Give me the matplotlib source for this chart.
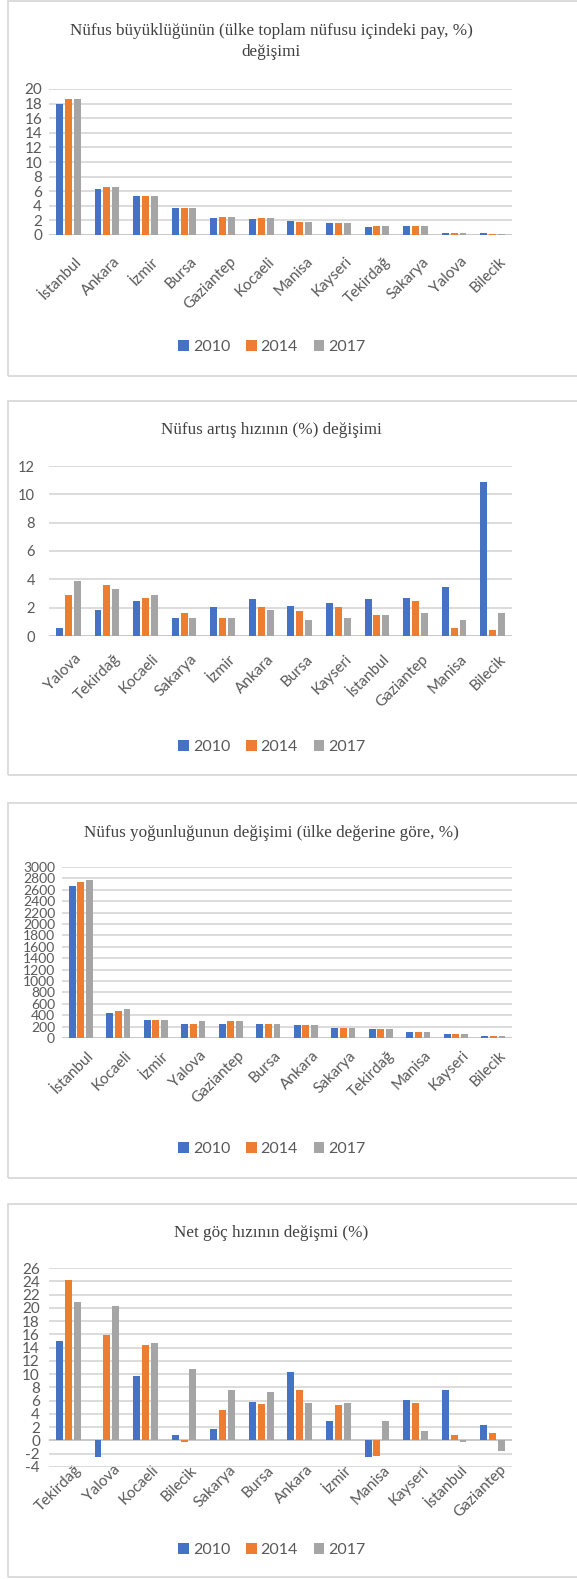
import matplotlib
matplotlib.use("Agg")
import matplotlib.pyplot as plt
from matplotlib.patches import Rectangle, Patch
from matplotlib.transforms import ScaledTranslation
import numpy as np

# ---------------- data ----------------
years = ["2010", "2014", "2017"]

cats1 = ["İstanbul", "Ankara", "İzmir", "Bursa", "Gaziantep", "Kocaeli", "Manisa",
         "Kayseri", "Tekirdağ", "Sakarya", "Yalova", "Bilecik"]
p1_2010 = [18.0, 6.3, 5.3, 3.7, 2.3, 2.2, 1.9, 1.7, 1.1, 1.2, 0.3, 0.3]
p1_2014 = [18.6, 6.6, 5.3, 3.7, 2.5, 2.3, 1.8, 1.7, 1.2, 1.2, 0.3, 0.2]
p1_2017 = [18.6, 6.6, 5.3, 3.7, 2.5, 2.3, 1.8, 1.7, 1.2, 1.2, 0.3, 0.2]

cats2 = ["Yalova", "Tekirdağ", "Kocaeli", "Sakarya", "İzmir", "Ankara", "Bursa",
         "Kayseri", "İstanbul", "Gaziantep", "Manisa", "Bilecik"]
p2_2010 = [0.56, 1.85, 2.45, 1.3, 2.05, 2.6, 2.15, 2.3, 2.6, 2.7, 3.45, 10.9]
p2_2014 = [2.9, 3.6, 2.7, 1.6, 1.3, 2.05, 1.75, 2.05, 1.45, 2.45, 0.56, 0.45]
p2_2017 = [3.9, 3.3, 2.9, 1.3, 1.3, 1.85, 1.15, 1.3, 1.45, 1.6, 1.15, 1.6]

cats3 = ["İstanbul", "Kocaeli", "İzmir", "Yalova", "Gaziantep", "Bursa", "Ankara",
         "Sakarya", "Tekirdağ", "Manisa", "Kayseri", "Bilecik"]
p3_2010 = [2665, 440, 323, 252, 252, 252, 223, 182, 153, 112, 76, 35]
p3_2014 = [2736, 476, 323, 252, 294, 252, 223, 182, 153, 112, 76, 35]
p3_2017 = [2765, 511, 323, 294, 294, 252, 223, 182, 153, 112, 76, 35]

cats4 = ["Tekirdağ", "Yalova", "Kocaeli", "Bilecik", "Sakarya", "Bursa", "Ankara",
         "İzmir", "Manisa", "Kayseri", "İstanbul", "Gaziantep"]
p4_2010 = [15.05, -2.5, 9.75, 0.86, 1.77, 5.75, 10.35, 3.0, -2.5, 6.06, 7.6, 2.4]
p4_2014 = [24.2, 15.9, 14.4, -0.3, 4.55, 5.45, 7.6, 5.4, -2.3, 5.7, 0.86, 1.15]
p4_2017 = [20.9, 20.2, 14.65, 10.7, 7.6, 7.3, 5.7, 5.7, 3.0, 1.4, -0.3, -1.6]

titles = ["Nüfus büyüklüğünün (ülke toplam nüfusu içindeki pay, %)\ndeğişimi",
          "Nüfus artış hızının (%) değişimi",
          "Nüfus yoğunluğunun değişimi (ülke değerine göre, %)",
          "Net göç hızının değişmi (%)"]

yticks1 = list(range(0, 21, 2))
yticks2 = list(range(0, 13, 2))
yticks3 = list(range(0, 3001, 200))
yticks4 = list(range(-4, 27, 2))

# ---------------- style ----------------
colors = ["#4472C4", "#ED7D31", "#A5A5A5"]
grid_c = "#D9D9D9"
sans = ["Lato", "DejaVu Sans"]
serif = ["Liberation Serif", "DejaVu Serif"]

W, H = 577, 1579
DPI = 100
fig = plt.figure(figsize=(W / DPI, H / DPI), dpi=DPI)
fig.patch.set_facecolor("white")


def fx(px):
    return px / W


def fy(py):
    return 1 - py / H


panels = [
    dict(cats=cats1, vals=[p1_2010, p1_2014, p1_2017], yt=yticks1, L=49, R=512, T=89, B=235,
         box=(1, 376), title_y=[30, 53], leg_y=347, yfs=11, xpad=14, ypad=5),
    dict(cats=cats2, vals=[p2_2010, p2_2014, p2_2017], yt=yticks2, L=49, R=512, T=466, B=636,
         box=(401, 775), title_y=[430], leg_y=747, yfs=10.5, xpad=11.5, ypad=10),
    dict(cats=cats3, vals=[p3_2010, p3_2014, p3_2017], yt=yticks3, L=62, R=512, T=867, B=1038,
         box=(803, 1178), title_y=[833], leg_y=1149, yfs=10, xpad=7.5, ypad=5),
    dict(cats=cats4, vals=[p4_2010, p4_2014, p4_2017], yt=yticks4, L=49, R=512, T=1268, B=1467,
         box=(1204, 1577), title_y=[1233], leg_y=1550, yfs=11, xpad=-3, ypad=6.5),
]

for i, p in enumerate(panels):
    # outer chart box
    bt, bb = p["box"]
    fig.add_artist(Rectangle((fx(8), fy(bb)), fx(600 - 8), (bb - bt) / H,
                             transform=fig.transFigure, fill=False,
                             edgecolor="#D6D6D6", linewidth=1.2))
    ax = fig.add_axes([fx(p["L"]), fy(p["B"]), fx(p["R"] - p["L"]), (p["B"] - p["T"]) / H])
    n = len(p["cats"])
    x = np.arange(n)
    bw = 0.18
    off = 0.23
    for k in range(3):
        ax.bar(x + (k - 1) * off, p["vals"][k], width=bw, color=colors[k], zorder=3)
    ax.set_xlim(-0.5, n - 0.5)
    ax.set_ylim(p["yt"][0], p["yt"][-1])
    ax.set_yticks(p["yt"])
    ax.set_yticklabels([str(v) for v in p["yt"]], fontsize=p["yfs"], family=sans, color="#595959")
    ax.yaxis.grid(True, color=grid_c, linewidth=1.3, zorder=0)
    ax.set_axisbelow(True)
    ax.tick_params(axis="y", length=0, pad=p["ypad"])
    ax.tick_params(axis="x", length=0, pad=p["xpad"])
    for s in ax.spines.values():
        s.set_visible(False)
    ax.axhline(0, color="#C8C8C8", linewidth=1.3, zorder=2)
    ax.set_xticks(x)
    ax.set_xticklabels(p["cats"], rotation=45, ha="right", rotation_mode="anchor",
                       fontsize=11, family=sans, color="#595959")
    for lab in ax.get_xticklabels():
        lab.set_transform(lab.get_transform() + ScaledTranslation(0.06, 0, fig.dpi_scale_trans))
    # title
    fig.text(fx(271), fy(sum(p["title_y"]) / len(p["title_y"])), titles[i],
             ha="center", va="center", fontsize=12.3, family=serif, color="#404040",
             linespacing=1.4)
    # legend
    handles = [Patch(facecolor=colors[k], edgecolor="none", label=years[k]) for k in range(3)]
    fig.legend(handles=handles, loc="center", bbox_to_anchor=(fx(272), fy(p["leg_y"])),
               ncol=3, frameon=False, handlelength=0.65, handleheight=0.65, handletextpad=0.25,
               columnspacing=1.0, prop={"family": sans, "size": 11.5}, labelcolor="#595959")

fig.savefig("out.png", dpi=DPI, facecolor="white")
